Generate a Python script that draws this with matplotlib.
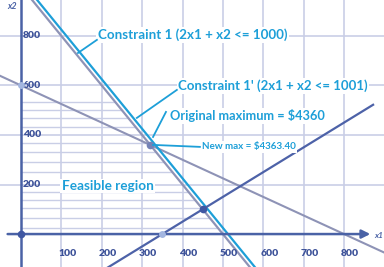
import numpy as np
import matplotlib
matplotlib.use("Agg")
import matplotlib.pyplot as plt

# ---- data ----
x_ticks = [100, 200, 300, 400, 500, 600, 700, 800]
x_tick_labels = ["100", "200", "300", "400", "500", "600", "700", "800"]
y_ticks = [200, 400, 600, 800]
y_tick_labels = ["200", "400", "600", "800"]

# constraint lines a*x1 + b*x2 = c
c1_coef = (2, 1, 1000)          # Constraint 1
c1b_coef = (2, 1, 1025)         # Constraint 1' (drawn slightly offset)
c2_coef = (3, 4, 2400)          # second constraint
c3_coef = (1, -1, 350)          # third constraint  x1 - x2 = 350

hatch_levels = [24, 65, 105, 137, 171, 252, 292, 333, 368, 434, 469, 501, 535]

pts_dark = [(0, 0), (450, 100)]
pt_opt = (320, 360)
pts_light = [(350, 0), (0, 600)]

label_c1 = "Constraint 1 (2x1 + x2 <= 1000)"
label_c1b = "Constraint 1' (2x1 + x2 <= 1001)"
label_orig = "Original maximum = $4360"
label_new = "New max = $4363.40"
label_feas = "Feasible region"

# ---- style ----
CYAN = "#1d9fd8"
GRID = "#c9cee6"
GRAY = "#8e93b6"
AXIS = "#4a62a6"
DARK = "#4d62a8"
TICK = "#3d5299"
FONT = "Lato"

XMIN, XMAX = -52, 899
YMIN, YMAX = -133, 945

fig = plt.figure(figsize=(3.84, 2.67), dpi=100)
ax = fig.add_axes([0, 0, 1, 1])
ax.set_xlim(XMIN, XMAX)
ax.set_ylim(YMIN, YMAX)
ax.axis("off")

# grid
for xv in x_ticks:
    ax.plot([xv, xv], [YMIN, YMAX], color=GRID, lw=1.2, zorder=1)
for yv in y_ticks:
    ax.plot([XMIN, XMAX], [yv, yv], color=GRID, lw=1.2, zorder=1)

# hatching of feasible region
a, b, c = c1_coef
for h in hatch_levels:
    ax.plot([0, (c - b * h) / a], [h, h], color=GRID, lw=1.0, zorder=1)

def line_by_x(coef, x0, x1):
    a, b, c = coef
    xs = np.array([x0, x1])
    return xs, (c - a * xs) / b

def line_by_y(coef, y0, y1):
    a, b, c = coef
    ys = np.array([y0, y1])
    return (c - b * ys) / a, ys

xs, ys = line_by_x(c2_coef, XMIN, XMAX)
ax.plot(xs, ys, color=GRAY, lw=1.5, zorder=3)
xs, ys = line_by_y(c1_coef, YMAX, YMIN)
ax.plot(xs, ys, color=GRAY, lw=1.6, zorder=3)
xs, ys = line_by_y(c1b_coef, YMAX, YMIN)
ax.plot(xs, ys, color=CYAN, lw=1.6, zorder=3)
xs, ys = line_by_x(c3_coef, 215, 872)
ax.plot(xs, ys, color=DARK, lw=1.6, zorder=3)

# axes
ax.plot([0, 0], [YMIN, YMAX], color=AXIS, lw=1.8, zorder=4)
ax.annotate("", xy=(872, 0), xytext=(-40, 0),
            arrowprops=dict(arrowstyle="-|>,head_length=0.5,head_width=0.25",
                            color=AXIS, lw=1.8), zorder=4)
ax.text(XMAX - 2, -5, "x1", color=AXIS, fontsize=6, fontweight="bold",
        fontstyle="italic", va="center", ha="right", family=FONT, zorder=5)
ax.text(-34, 935, "x2", color=AXIS, fontsize=6.5, fontweight="bold",
        fontstyle="italic", va="top", ha="left", family=FONT, zorder=5)

# tick labels
for xv, lab in zip(x_ticks, x_tick_labels):
    ax.text(xv + 15, -80, lab, color=TICK, fontsize=7.5, fontweight="heavy",
            ha="center", va="center", family=FONT, zorder=5)
for yv, lab in zip(y_ticks, y_tick_labels):
    ax.text(4, yv, lab, color=TICK, fontsize=7.5, fontweight="heavy",
            ha="left", va="center", family=FONT, zorder=5)

# points
for p in pts_light:
    ax.plot(*p, "o", color="#a3b6e0", ms=5, zorder=6, mec="none")
for p in pts_dark:
    ax.plot(*p, "o", color="#3f57a2", ms=5.5, zorder=6, mec="none")
ax.plot(*pt_opt, "o", color="#7482b6", ms=5.5, zorder=6, mec="none")

# annotations
bbox = dict(facecolor="white", edgecolor="none", pad=1.0)
ax.text(190, 804, label_c1, color=CYAN, fontsize=9.6, fontweight="bold",
        ha="left", va="center", family=FONT, bbox=bbox, zorder=7)
ax.plot([188, 141], [784, 731], color=CYAN, lw=1.3, zorder=7)

ax.text(389, 598, label_c1b, color=CYAN, fontsize=9.5, fontweight="bold",
        ha="left", va="center", family=FONT, bbox=bbox, zorder=7)
ax.plot([386, 287], [582, 469], color=CYAN, lw=1.3, zorder=7)

ax.text(369, 477, label_orig, color=CYAN, fontsize=9.2, fontweight="bold",
        ha="left", va="center", family=FONT, bbox=bbox, zorder=7)
ax.plot([359, 327], [493, 392], color=CYAN, lw=1.3, zorder=7)

ax.text(448, 352, label_new, color=CYAN, fontsize=7.1, fontweight="bold",
        ha="left", va="center", family=FONT, bbox=bbox, zorder=7)
ax.plot([327, 443], [360, 352], color=CYAN, lw=1.3, zorder=7)

ax.text(101, 194, label_feas, color=CYAN, fontsize=9.8, fontweight="bold",
        ha="left", va="center", family=FONT, bbox=bbox, zorder=7)

fig.savefig("out.png", dpi=100, facecolor="white")
